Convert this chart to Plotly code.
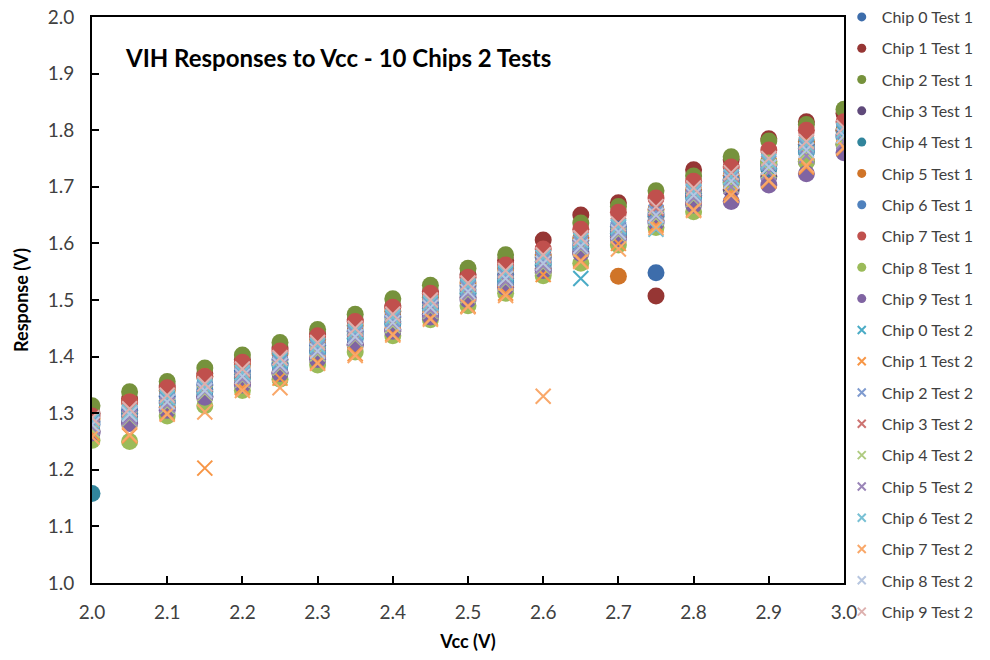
import plotly.graph_objects as go

vcc = [2.00, 2.05, 2.10, 2.15, 2.20, 2.25, 2.30, 2.35, 2.40, 2.45, 2.50,
       2.55, 2.60, 2.65, 2.70, 2.75, 2.80, 2.85, 2.90, 2.95, 3.00]

# Test 1 responses (V)
chip0_t1 = [1.285, 1.305, 1.330, 1.350, 1.375, 1.395, 1.420, 1.445, 1.470, 1.495, 1.525,
            1.545, 1.575, 1.605, 1.630, 1.548, 1.685, 1.712, 1.740, 1.775, 1.800]
chip1_t1 = [1.300, 1.325, 1.348, 1.370, 1.395, 1.415, 1.440, 1.465, 1.490, 1.515, 1.545,
            1.570, 1.606, 1.650, 1.672, 1.507, 1.730, 1.748, 1.785, 1.815, 1.830]
chip2_t1 = [1.313, 1.338, 1.356, 1.380, 1.403, 1.425, 1.448, 1.475, 1.502, 1.526, 1.556,
            1.580, 1.548, 1.636, 1.665, 1.693, 1.719, 1.753, 1.781, 1.810, 1.837]
chip3_t1 = [1.268, 1.285, 1.310, 1.330, 1.352, 1.372, 1.398, 1.422, 1.448, 1.475, 1.505,
            1.525, 1.555, 1.585, 1.612, 1.640, 1.672, 1.695, 1.718, 1.745, 1.775]
chip4_t1 = [1.158, 1.295, 1.318, 1.338, 1.362, 1.385, 1.408, 1.432, 1.458, 1.485, 1.512,
            1.532, 1.562, 1.592, 1.618, 1.648, 1.682, 1.708, 1.732, 1.762, 1.788]
chip5_t1 = [1.290, 1.320, 1.340, 1.365, 1.385, 1.405, 1.430, 1.455, 1.480, 1.505, 1.530,
            1.555, 1.580, 1.610, 1.542, 1.660, 1.695, 1.720, 1.745, 1.780, 1.800]
chip6_t1 = [1.280, 1.300, 1.322, 1.342, 1.368, 1.388, 1.412, 1.438, 1.462, 1.488, 1.518,
            1.538, 1.568, 1.598, 1.622, 1.652, 1.688, 1.712, 1.738, 1.768, 1.792]
chip7_t1 = [1.295, 1.320, 1.345, 1.365, 1.390, 1.410, 1.437, 1.462, 1.487, 1.512, 1.540,
            1.562, 1.590, 1.625, 1.655, 1.680, 1.710, 1.735, 1.765, 1.800, 1.815]
chip8_t1 = [1.252, 1.250, 1.295, 1.313, 1.340, 1.360, 1.385, 1.408, 1.437, 1.465, 1.490,
            1.512, 1.543, 1.565, 1.597, 1.628, 1.656, 1.705, 1.742, 1.744, 1.775]
chip9_t1 = [1.265, 1.282, 1.305, 1.328, 1.350, 1.370, 1.395, 1.420, 1.445, 1.470, 1.500,
            1.522, 1.552, 1.582, 1.608, 1.636, 1.668, 1.674, 1.703, 1.723, 1.760]

# Test 2 responses (V)
chip0_t2 = [1.285, 1.300, 1.325, 1.345, 1.372, 1.392, 1.418, 1.442, 1.468, 1.492, 1.522,
            1.545, 1.575, 1.538, 1.628, 1.650, 1.690, 1.715, 1.735, 1.770, 1.795]
chip1_t2 = [1.265, 1.260, 1.300, 1.203, 1.345, 1.362, 1.390, 1.405, 1.440, 1.468, 1.490,
            1.512, 1.545, 1.570, 1.600, 1.632, 1.660, 1.690, 1.710, 1.735, 1.768]
chip2_t2 = [1.282, 1.298, 1.322, 1.343, 1.368, 1.388, 1.415, 1.440, 1.465, 1.490, 1.520,
            1.542, 1.570, 1.600, 1.625, 1.655, 1.690, 1.715, 1.742, 1.772, 1.798]
chip3_t2 = [1.290, 1.305, 1.330, 1.350, 1.375, 1.398, 1.422, 1.448, 1.472, 1.498, 1.528,
            1.550, 1.578, 1.608, 1.632, 1.662, 1.695, 1.722, 1.748, 1.778, 1.802]
chip4_t2 = [1.270, 1.290, 1.312, 1.335, 1.358, 1.380, 1.405, 1.430, 1.455, 1.480, 1.508,
            1.530, 1.558, 1.590, 1.615, 1.645, 1.678, 1.702, 1.728, 1.758, 1.782]
chip5_t2 = [1.275, 1.292, 1.315, 1.338, 1.360, 1.382, 1.408, 1.432, 1.458, 1.482, 1.510,
            1.532, 1.560, 1.592, 1.618, 1.648, 1.680, 1.700, 1.725, 1.755, 1.780]
chip6_t2 = [1.288, 1.302, 1.328, 1.348, 1.372, 1.395, 1.420, 1.445, 1.470, 1.495, 1.525,
            1.548, 1.575, 1.605, 1.630, 1.625, 1.692, 1.718, 1.745, 1.775, 1.800]
chip7_t2 = [1.258, 1.262, 1.298, 1.302, 1.340, 1.345, 1.388, 1.402, 1.438, 1.466, 1.488,
            1.508, 1.330, 1.568, 1.590, 1.628, 1.658, 1.685, 1.712, 1.738, 1.770]
chip8_t2 = [1.280, 1.298, 1.320, 1.340, 1.365, 1.385, 1.410, 1.435, 1.460, 1.487, 1.515,
            1.538, 1.565, 1.595, 1.620, 1.650, 1.685, 1.710, 1.735, 1.765, 1.790]
chip9_t2 = [1.292, 1.308, 1.332, 1.352, 1.378, 1.398, 1.425, 1.450, 1.475, 1.500, 1.530,
            1.552, 1.580, 1.610, 1.635, 1.665, 1.698, 1.725, 1.750, 1.780, 1.805]

names = [f"Chip {i} Test 1" for i in range(10)] + [f"Chip {i} Test 2" for i in range(10)]
series = [chip0_t1, chip1_t1, chip2_t1, chip3_t1, chip4_t1, chip5_t1, chip6_t1, chip7_t1, chip8_t1, chip9_t1,
          chip0_t2, chip1_t2, chip2_t2, chip3_t2, chip4_t2, chip5_t2, chip6_t2, chip7_t2, chip8_t2, chip9_t2]
colors = ["#3D6DAB", "#963634", "#76923C", "#5F497A", "#31859C", "#D07428",
          "#4F81BD", "#C0504D", "#9BBB59", "#8064A2",
          "#4BACC6", "#F79646", "#7F9BCF", "#CD7371", "#AFCB80", "#9A85B8",
          "#78C0D4", "#F9A86A", "#B7C6E0", "#DDB0AE"]

FONT = "Lato"
fig = go.Figure()
for i, (nm, ys, c) in enumerate(zip(names, series, colors)):
    is_t1 = i < 10
    if is_t1:
        mk = dict(symbol="circle", size=17, color=c, line=dict(width=0))
        lmk = dict(symbol="circle", size=9, color=c, line=dict(width=0))
    else:
        mk = dict(symbol="x-thin-open", size=15, color=c, line=dict(width=2, color=c))
        lmk = dict(symbol="x-thin-open", size=8, color=c, line=dict(width=2, color=c))
    fig.add_trace(go.Scatter(x=vcc, y=ys, mode="markers", marker=mk, name=nm,
                             legendgroup=nm, showlegend=False))
    fig.add_trace(go.Scatter(x=[None], y=[None], mode="markers", marker=lmk, name=nm,
                             legendgroup=nm, showlegend=True))

axis_common = dict(showline=True, linecolor="black", linewidth=2, mirror=True,
                   ticks="inside", ticklen=7, tickwidth=1.5, tickcolor="black",
                   showgrid=False, zeroline=False,
                   tickfont=dict(family=FONT, size=19, color="#404040"))

fig.update_xaxes(range=[2.0, 3.0], dtick=0.1, tick0=2.0, tickformat=".1f",
                 title=dict(text="<b>Vcc (V)</b>", font=dict(family=FONT, size=18, color="black"), standoff=14),
                 ticklabelstandoff=11, **axis_common)
fig.update_yaxes(range=[1.0, 2.0], dtick=0.1, tick0=1.0, tickformat=".1f",
                 title=dict(text="<b>Response (V)</b>", font=dict(family=FONT, size=18, color="black"), standoff=14),
                 ticklabelstandoff=12, **axis_common)

fig.add_annotation(text="<b>VIH Responses to Vcc - 10 Chips 2 Tests</b>", x=0.041, y=0.928,
                   xref="paper", yref="paper", xanchor="left", yanchor="middle", showarrow=False,
                   font=dict(family=FONT, size=24, color="black"))

fig.update_layout(
    width=990, height=660,
    margin=dict(l=92, r=146, t=17, b=77, autoexpand=False),
    paper_bgcolor="white", plot_bgcolor="white",
    font=dict(family=FONT, color="#404040"),
    legend=dict(x=0.997, y=1.030, xanchor="left", yanchor="top", traceorder="grouped",
                tracegroupgap=7.5, itemsizing="trace", maxheight=660,
                font=dict(family=FONT, size=16, color="#404040"),
                bgcolor="rgba(0,0,0,0)"),
)

fig.write_html("out.html")
